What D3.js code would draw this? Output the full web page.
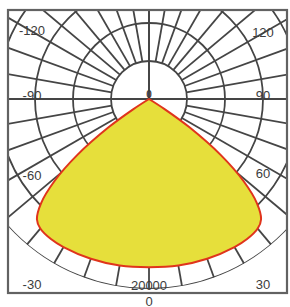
<!DOCTYPE html>
<html>
<head>
<meta charset="utf-8">
<script src="https://cdn.jsdelivr.net/npm/d3@7"></script>
<style>
  body { margin: 0; background: #fff; }
  svg { display: block; }
</style>
</head>
<body>
<div id="chart"></div>
<script>
// rings of the polar grid (cd)
const ringValues = [4000, 8000, 12000, 16000, 20000]
// grid rays, degrees from nadir (right = positive)
const rayAngles = [-180, -170, -160, -150, -140, -130, -120, -110, -100, -90, -80, -70, -60, -50, -40, -30, -20, -10,
  0, 10, 20, 30, 40, 50, 60, 70, 80, 90, 100, 110, 120, 130, 140, 150, 160, 170, 180]
// intensity curve
const curveAngles = [-58, -57, -55, -52, -49, -46, -43, -40, -35, -30, -20, -10, 0,
  10, 20, 30, 35, 40, 43, 46, 49, 52, 55, 57, 58]
const curveValues = [0, 2000, 5200, 9600, 13200, 15800, 17300, 17800, 18000, 18000, 17900, 17800, 17700,
  17800, 17900, 18000, 18000, 17800, 17300, 15800, 13200, 9600, 5200, 2000, 0]
// angle labels
const angleLabels = [-120, -90, -60, -30, 30, 60, 90, 120]
const ringLabel = "20000"

const W = 290, H = 307
const frame = {x: 8, y: 10, w: 279, h: 283}
const cx = 149, cy = 99
const R = 190

const svg = d3.select("#chart")
  .append("svg")
  .attr("width", W)
  .attr("height", H)

const r = d3.scaleLinear().domain([0, 20000]).range([0, R])
const toRad = d => d * Math.PI / 180
// position from nadir angle
const px = (a, v) => cx + r(v) * Math.sin(toRad(a))
const py = (a, v) => cy + r(v) * Math.cos(toRad(a))

const defs = svg.append("defs")
defs.append("clipPath").attr("id", "clip_frame")
  .append("rect")
  .attr("x", frame.x).attr("y", frame.y)
  .attr("width", frame.w).attr("height", frame.h)
defs.append("clipPath").attr("id", "clip_circle")
  .append("circle")
  .attr("cx", cx).attr("cy", cy).attr("r", R)

const plot = svg.append("g").attr("clip-path", "url(#clip_frame)")
  .append("g").attr("clip-path", "url(#clip_circle)")

const gridColor = "#454545"

// rings
plot.selectAll(".ring")
  .data(ringValues)
  .join("circle")
  .attr("class", "ring")
  .attr("cx", cx).attr("cy", cy)
  .attr("r", d => r(d))
  .attr("fill", "none")
  .attr("stroke", gridColor)
  .attr("stroke-width", 1.8)

// rays
plot.selectAll(".ray")
  .data(rayAngles)
  .join("line")
  .attr("class", "ray")
  .attr("x1", d => (Math.abs(d) % 90 == 0) ? cx : px(d, ringValues[0]))
  .attr("y1", d => (Math.abs(d) % 90 == 0) ? cy : py(d, ringValues[0]))
  .attr("x2", d => px(d, 20000))
  .attr("y2", d => py(d, 20000))
  .attr("stroke", gridColor)
  .attr("stroke-width", 1.8)

// intensity curve
const line = d3.lineRadial()
  .angle((d, i) => Math.PI - toRad(curveAngles[i]))
  .radius(d => r(d))
  .curve(d3.curveCatmullRom)

svg.append("path")
  .attr("transform", `translate(${cx},${cy})`)
  .attr("d", line(curveValues) + "Z")
  .attr("fill", "#e6df3b")
  .attr("stroke", "#e0341c")
  .attr("stroke-width", 2)
  .attr("stroke-linejoin", "round")

// labels
const font = "'Liberation Sans', Arial, sans-serif"
const labelX = a => a < 0 ? frame.x + 24 : frame.x + frame.w - 24
const labelDy = {"-120": 4, "120": 4, "-90": 1, "90": 1, "-60": 13, "60": 13, "-30": 0, "30": 0}

svg.selectAll(".alabel")
  .data(angleLabels)
  .join("text")
  .attr("class", "alabel")
  .attr("x", d => labelX(d))
  .attr("y", d => {
    if (Math.abs(d) == 30) return frame.y + frame.h - 4
    const t = Math.abs(labelX(d) - cx) / Math.abs(Math.sin(toRad(d)))
    return cy + t * Math.cos(toRad(d)) + labelDy[d]
  })
  .attr("text-anchor", "middle")
  .attr("font-family", font)
  .attr("font-size", 13)
  .attr("fill", "#3c3c3c")
  .text(d => d)

svg.append("text")
  .attr("x", cx).attr("y", frame.y + frame.h - 3)
  .attr("text-anchor", "middle")
  .attr("font-family", font)
  .attr("font-size", 13)
  .attr("fill", "#3c3c3c")
  .text(ringLabel)

svg.append("text")
  .attr("x", cx).attr("y", H - 1)
  .attr("text-anchor", "middle")
  .attr("font-family", font)
  .attr("font-size", 13)
  .attr("fill", "#3c3c3c")
  .text("0")

svg.append("text")
  .attr("x", cx).attr("y", cy - 1)
  .attr("text-anchor", "middle")
  .attr("font-family", font)
  .attr("font-size", 10)
  .attr("font-weight", "bold")
  .attr("fill", "#3c3c3c")
  .text("0")

// frame
svg.append("rect")
  .attr("x", frame.x).attr("y", frame.y)
  .attr("width", frame.w).attr("height", frame.h)
  .attr("fill", "none")
  .attr("stroke", "#626262")
  .attr("stroke-width", 2.2)
</script>
</body>
</html>
